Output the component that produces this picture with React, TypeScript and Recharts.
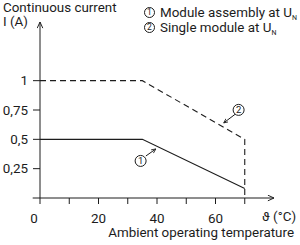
import React from 'react';
import {
  LineChart,
  Line,
  XAxis,
  YAxis,
  ReferenceLine,
  ReferenceDot
} from 'recharts';

// derating curves
const assemblyTemps = [0, 35, 70];
const assemblyCurrent = [0.5, 0.5, 0.08];
const singleTemps = [0, 35, 70, 70];
const singleCurrent = [1, 1, 0.5, 0];

const xTicks = [0, 10, 20, 30, 40, 50, 60, 70];
const xLabelled = [0, 20, 40, 60];
const yTicks = [0.25, 0.5, 0.75, 1];

const INK = '#1c1c1c';
const FONT = 'Roboto, "Noto Sans", sans-serif';
const FS = 13.4;

const assemblyData = assemblyTemps.map((t, i) => ({ t, i: assemblyCurrent[i] }));
const singleData = singleTemps.map((t, i) => ({ t, i: singleCurrent[i] }));

const XTick = (props: any) => {
  const { x, y, payload } = props;
  if (!xLabelled.includes(payload.value)) return null;
  const shift = payload.value === 0 ? -6 : 0;
  return (
    <text x={x + shift} y={y} dy="0.71em" textAnchor="middle" fill={INK} fontSize={FS} fontFamily={FONT}>
      {payload.value}
    </text>
  );
};

const Circled = ({ n }: { n: number }) => (
  <span
    style={{
      display: 'inline-flex',
      alignItems: 'center',
      justifyContent: 'center',
      width: 9,
      height: 9,
      border: `1px solid ${INK}`,
      borderRadius: '50%',
      fontSize: 8.5,
      lineHeight: 1,
      marginRight: 5,
      verticalAlign: 'middle',
      position: 'relative',
      top: -1
    }}
  >
    {n}
  </span>
);

const Sub = () => <sub style={{ fontSize: 7, verticalAlign: -3, lineHeight: 0 }}>N</sub>;

export default function App() {
  return (
    <div style={{ position: 'absolute', left: 0, top: 0, width: 300, height: 245, background: '#fff', fontFamily: FONT, color: INK }}>
      <svg width={0} height={0} style={{ position: 'absolute' }}>
        <defs>
          <marker id="arr" viewBox="0 0 8 8" refX={7.5} refY={4} markerWidth={7} markerHeight={7} markerUnits="userSpaceOnUse" orient="auto-start-reverse">
            <path d="M0.5,0.8 L7.5,4 L0.5,7.2" fill="none" stroke={INK} strokeWidth={1.1} />
          </marker>
          <marker id="arrSmall" viewBox="0 0 8 8" refX={7.5} refY={4} markerWidth={5} markerHeight={5} markerUnits="userSpaceOnUse" orient="auto">
            <path d="M0.5,0.8 L7.5,4 L0.5,7.2" fill="none" stroke={INK} strokeWidth={1.3} />
          </marker>
        </defs>
      </svg>

      <LineChart width={300} height={245} margin={{ top: 22, right: 26, bottom: 0, left: 0 }}>
        <XAxis
          dataKey="t"
          type="number"
          domain={[0, 80]}
          ticks={xTicks}
          interval={0}
          height={47}
          tickSize={6}
          tickMargin={9}
          tick={<XTick />}
          axisLine={{ stroke: INK, strokeWidth: 1, markerEnd: 'url(#arr)' }}
          tickLine={{ stroke: INK }}
        />
        <YAxis
          type="number"
          domain={[0, 1.5]}
          ticks={yTicks}
          interval={0}
          width={40}
          tickSize={7}
          tickMargin={5}
          tickFormatter={(v: number) => String(v).replace('.', ',')}
          tick={{ fill: INK, fontSize: FS, fontFamily: FONT }}
          axisLine={{ stroke: INK, strokeWidth: 1, markerStart: 'url(#arr)' }}
          tickLine={{ stroke: INK }}
        />
        <ReferenceLine segment={[{ x: -2.5, y: 0 }, { x: 0, y: 0 }]} stroke={INK} ifOverflow="visible" />

        <Line
          data={singleData}
          dataKey="i"
          type="linear"
          stroke={INK}
          strokeWidth={1.1}
          strokeDasharray="6 4"
          dot={false}
          isAnimationActive={false}
        />
        <Line
          data={assemblyData}
          dataKey="i"
          type="linear"
          stroke={INK}
          strokeWidth={1.1}
          dot={false}
          isAnimationActive={false}
        />

        {/* callouts */}
        <ReferenceLine segment={[{ x: 66.9, y: 0.717 }, { x: 62.8, y: 0.64 }]} stroke={INK} markerEnd="url(#arrSmall)" ifOverflow="visible" />
        <ReferenceLine segment={[{ x: 36.2, y: 0.358 }, { x: 39.6, y: 0.418 }]} stroke={INK} markerEnd="url(#arrSmall)" ifOverflow="visible" />
        <ReferenceDot x={67.9} y={0.751} r={5.5} fill="#fff" stroke={INK} ifOverflow="visible"
          label={{ value: '2', position: 'center', fontSize: 9.5, fill: INK, fontFamily: FONT }} />
        <ReferenceDot x={34.4} y={0.316} r={5.5} fill="#fff" stroke={INK} ifOverflow="visible"
          label={{ value: '1', position: 'center', fontSize: 9.5, fill: INK, fontFamily: FONT }} />
      </LineChart>

      <div style={{ position: 'absolute', left: 3, top: 1, fontSize: FS, lineHeight: '14px' }}>
        Continuous current
        <br />I (A)
      </div>

      <div style={{ position: 'absolute', left: 144, top: 5, fontSize: FS, lineHeight: '15px', whiteSpace: 'nowrap' }}>
        <div><Circled n={1} />Module assembly at U<Sub /></div>
        <div><Circled n={2} />Single module at U<Sub /></div>
      </div>

      <div style={{ position: 'absolute', left: 262, top: 209, fontSize: FS, whiteSpace: 'nowrap' }}>
        ϑ (°C)
      </div>
      <div style={{ position: 'absolute', right: 6, top: 225, fontSize: FS, whiteSpace: 'nowrap' }}>
        Ambient operating temperature
      </div>
    </div>
  );
}
